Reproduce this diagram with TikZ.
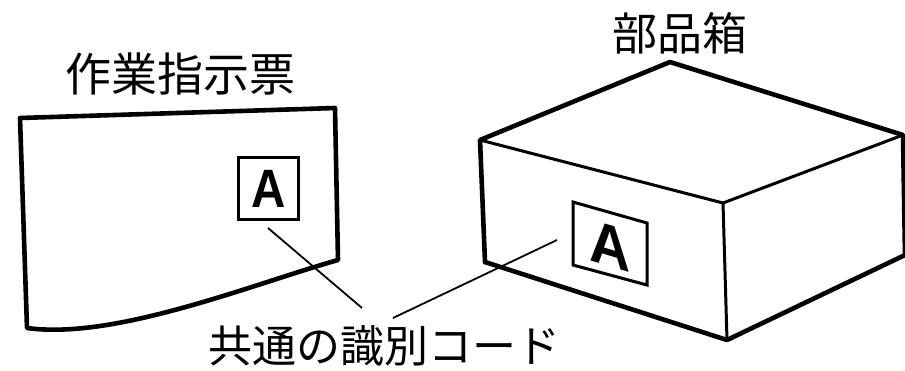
\documentclass[tikz,border=0pt]{standalone}
\usepackage{fontspec}
\newfontfamily\jpfont{Noto Sans CJK JP}
\newfontfamily\codefont{Liberation Sans}
\begin{document}
\begin{tikzpicture}[x=1pt,y=-1pt,
  outline/.style={line width=4.6pt,line join=round,line cap=round},
  inner edge/.style={line width=3pt,line join=round,line cap=round},
  tagframe/.style={line width=3pt,line join=miter},
  leader/.style={line width=1.8pt},
  caption/.style={font=\jpfont\fontsize{45}{45}\selectfont,inner sep=0pt},
  codeletter/.style={font=\codefont\bfseries\fontsize{#1}{#1}\selectfont,inner sep=0pt}]
\useasboundingbox (0,0) rectangle (905,370);

% work instruction sheet with a wavy lower edge
\draw[outline] (20,118) -- (335,108) -- (338,260)
  .. controls (250,285) and (115,340) .. (27,328) -- cycle;
\draw[tagframe] (238,157) rectangle (298,219);
\node[codeletter=54,xscale=0.88] (sheetcode) at (269,189) {A};

% parts box in isometric view
\coordinate (top) at (670,62);
\coordinate (lt) at (480,140);
\coordinate (rt) at (903,135);
\coordinate (fc) at (723,203);
\coordinate (lb) at (485,262);
\coordinate (fb) at (727,340);
\coordinate (rb) at (905,255);
\draw[outline] (lb) -- (lt) -- (top) -- (rt) -- (rb);
\draw[outline] (lb) -- (fb) -- (rb);
\draw[inner edge] (lt) -- (fc) -- (rt);
\draw[inner edge] (fc) -- (fb);
\draw[tagframe] (573,202) -- (647,223) -- (647,285) -- (573,265) -- cycle;
% the code letter is sheared to lie on the slanted front face
\node[codeletter=60,yslant=-0.3,xscale=0.95] (boxcode) at (610,246) {A};

% labels
\node[caption,font=\jpfont\fontsize{46}{46}\selectfont] (sheetlabel) at (180,74) {作業指示票};
\node[caption] (boxlabel) at (680,33) {部品箱};
\node[caption,font=\jpfont\fontsize{44}{44}\selectfont] (codelabel) at (384,346) {共通の識別コード};

% leader lines to the shared code
\coordinate (l1a) at (268,228);
\coordinate (l1b) at (362,308);
\coordinate (l2a) at (557,240);
\coordinate (l2b) at (393,318);
\draw[leader] (l1a) -- (l1b);
\draw[leader] (l2a) -- (l2b);
\end{tikzpicture}
\end{document}
